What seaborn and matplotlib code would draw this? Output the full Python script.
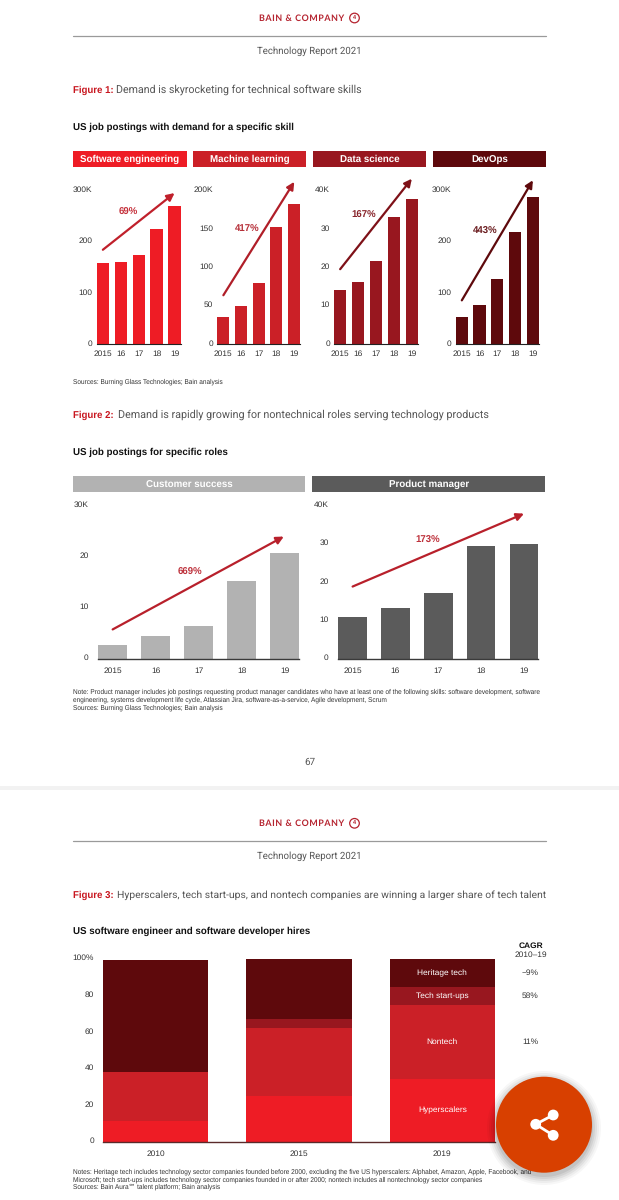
import matplotlib
matplotlib.use('Agg')
import matplotlib.pyplot as plt
import seaborn as sns
import numpy as np
from matplotlib.patches import Rectangle, Circle
from matplotlib.transforms import ScaledTranslation

W, H = 619, 1200

# Figure 1 data
years = ['2015', '16', '17', '18', '19']
software_eng = [160, 161, 175, 225, 271]
machine_learning = [35, 49.5, 80, 152.6, 183]
data_science = [14.2, 16.2, 21.7, 33.3, 37.8]
devops = [52.6, 76, 127, 220, 288]

# Figure 2 data
customer_success = [2.7, 4.4, 6.5, 15.2, 20.8]
product_manager = [10.9, 13.2, 17.3, 29.6, 30.1]

# Figure 3 data
hire_years = ['2010', '2015', '2019']
hyperscalers = [11.6, 25.3, 34.2]
nontech = [26.4, 37.2, 40.7]
startups = [0, 4.9, 10.0]
heritage = [61.5, 32.6, 15.1]
segment_names = ['Hyperscalers', 'Nontech', 'Tech start-ups', 'Heritage tech']
cagr_labels = ['', '11%', '58%', '\u22129%']

RED1, RED2, RED3, RED4 = '#EE1C25', '#CB2027', '#98171F', '#5E090C'

sns.set_theme(style='white')
plt.rcParams['font.family'] = ['Liberation Sans', 'DejaVu Sans']
plt.rcParams['text.color'] = '#333333'
plt.rcParams['text.hinting'] = 'no_hinting'

fig = plt.figure(figsize=(W / 100, H / 100), dpi=100, facecolor='white')


def px_axes(left, top, right, bottom):
    return fig.add_axes([left / W, 1 - bottom / H, (right - left) / W, (bottom - top) / H])


def style_axes(ax, ticks, labels, ymax, xlim, xpad, ypad, spine_color, spine_lw):
    ax.set_xlim(*xlim)
    ax.set_ylim(0, ymax)
    ax.set_yticks(ticks)
    ax.set_yticklabels(labels)
    ax.set_xlabel('')
    ax.set_ylabel('')
    ax.patch.set_alpha(0)
    ax.tick_params(axis='x', length=0, pad=xpad, labelsize=6, labelcolor='#333333')
    ax.tick_params(axis='y', length=0, pad=ypad, labelsize=6, labelcolor='#333333')
    for side in ['top', 'left', 'right']:
        ax.spines[side].set_visible(False)
    ax.spines['bottom'].set_color(spine_color)
    ax.spines['bottom'].set_linewidth(spine_lw)
    ax.spines['bottom'].set_zorder(5)
    # tick labels sit a bit above the gridline position in the original
    lift = ScaledTranslation(0, 1.2 / 72, fig.dpi_scale_trans)
    for t in ax.get_yticklabels():
        t.set_transform(t.get_transform() + lift)


def growth_panel(box, values, color, ymax, ticks, labels, arrow, arrow_color, pct, pct_pos, width, xlim, xpad, ypad, spine_color, spine_lw):
    ax = px_axes(*box)
    sns.barplot(x=years, y=values, color=color, saturation=1, width=width, linewidth=0, ax=ax)
    style_axes(ax, ticks, labels, ymax, xlim, xpad, ypad, spine_color, spine_lw)
    ax.annotate('', xy=arrow[2:], xytext=arrow[:2], annotation_clip=False,
                arrowprops=dict(arrowstyle='-|>', color=arrow_color, lw=1.6, mutation_scale=11, shrinkA=0, shrinkB=0))
    ax.text(pct_pos[0], pct_pos[1], pct, color=arrow_color, fontsize=6.9, fontweight='bold',
            ha='center', va='center', clip_on=False, alpha=0.92)
    return ax


# Figure 1 panels
small_xlim = (-0.344, 4.344)
growth_panel((96.7, 191, 180.7, 344.3), software_eng, RED1, 300, [0, 100, 200, 300], ['0', '100', '200', '300K'],
             (0, 185, 4, 296), '#C0202B', '69%', (1.44, 258), 0.688, small_xlim, 4.5, 3, '#222222', 0.8)
growth_panel((217.3, 191, 300, 344.3), machine_learning, RED2, 200, [0, 50, 100, 150, 200], ['0', '50', '100', '150', '200K'],
             (0, 64, 4.02, 212), '#B01E28', '417%', (1.33, 150), 0.688, small_xlim, 4.5, 3, '#222222', 0.8)
growth_panel((334, 191, 418, 344.3), data_science, RED3, 40, [0, 10, 20, 30, 40], ['0', '10', '20', '30', '40K'],
             (0, 19.6, 4, 43.2), '#7E1118', '167%', (1.34, 33.7), 0.688, small_xlim, 4.5, 3, '#222222', 0.8)
growth_panel((455.7, 191, 539, 344.3), devops, RED4, 300, [0, 100, 200, 300], ['0', '100', '200', '300K'],
             (0, 86, 4, 321), '#5E090C', '443%', (1.31, 222), 0.688, small_xlim, 4.5, 3, '#222222', 0.8)

# Figure 2 panels
wide_xlim = (-0.334, 4.334)
growth_panel((98.3, 506, 299, 658.7), customer_success, '#B2B2B2', 30, [0, 10, 20, 30], ['0', '10', '20', '30K'],
             (0, 5.75, 3.98, 24), '#B8202B', '669%', (1.8, 16.9), 0.668, wide_xlim, 6, 7, '#3A3A3A', 1.0)
growth_panel((338.3, 506, 538.3, 658.7), product_manager, '#5B5B5B', 40, [0, 10, 20, 30, 40], ['0', '10', '20', '30', '40K'],
             (0, 18.9, 4, 38), '#B8202B', '173%', (1.76, 30.9), 0.668, wide_xlim, 6, 7, '#3A3A3A', 1.0)

# Figure 3 stacked bars
ax3 = px_axes(102.9, 959, 495, 1142)
bottoms = np.zeros(3)
series = [hyperscalers, nontech, startups, heritage]
for values, color in zip(series, [RED1, RED2, RED3, RED4]):
    sns.barplot(x=hire_years, y=values, bottom=bottoms, color=color, saturation=1, width=0.736, linewidth=0, ax=ax3)
    bottoms = bottoms + np.array(values)
style_axes(ax3, [0, 20, 40, 60, 80, 100], ['0', '20', '40', '60', '80', '100%'], 100, (-0.368, 2.368), 6, 6.5, '#5A2A2A', 1.0)

# labels inside the 2019 bar and the CAGR column next to it
base = 0
for name, values, cagr in zip(segment_names, series, cagr_labels):
    mid = base + values[2] / 2
    ax3.text(2, mid, name, color='white', fontsize=6, ha='center', va='center')
    if cagr:
        ax3.text(2.615, mid, cagr, color='#333333', fontsize=6, ha='center', va='center', clip_on=False)
    base += values[2]

# page furniture goes on a full-size overlay in pixel coordinates
page = fig.add_axes([0, 0, 1, 1], zorder=20)
page.set_xlim(0, W)
page.set_ylim(H, 0)
page.axis('off')

page.add_patch(Rectangle((0, 786), W, 4, color='#F2F2F2', lw=0))


def page_head(logo_y, rule_y, report_y):
    page.text(301.5, logo_y, '\u200a'.join('BAIN & COMPANY'), color='#B5232F', family=['Lato', 'DejaVu Sans'],
              fontweight='bold', fontsize=6.4, ha='center', va='center')
    page.add_patch(Circle((354.5, logo_y), 4.8, fill=False, ec='#B5232F', lw=0.9))
    page.text(354.5, logo_y - 0.5, '4', color='#B5232F', fontsize=4, fontweight='bold', ha='center', va='center')
    page.plot([72.7, 546], [rule_y, rule_y], color='#9A9A9A', lw=0.9)
    page.text(309.5, report_y, 'Technology Report 2021', color='#555555', family='Roboto', fontsize=6.95,
              ha='center', va='center')


def figure_title(y, tag, text, x_text, size, sub, sub_y):
    page.text(72.7, y + 2.7, tag, color='#C8161F', fontsize=6.9, fontweight='bold', va='baseline')
    page.text(x_text, y + 2.7, text, color='#555555', family='Roboto', fontsize=size, va='baseline')
    page.text(72.7, sub_y + 2.5, sub, color='#111111', fontsize=7.05, fontweight='bold', va='baseline')


def band(x0, x1, y0, y1, color, label, dy=0):
    page.add_patch(Rectangle((x0, y0), x1 - x0, y1 - y0, color=color, lw=0))
    page.text((x0 + x1) / 2, (y0 + y1) / 2 + 3 + dy, label, color='white', fontsize=7.05, fontweight='bold',
              ha='center', va='baseline')


page_head(18, 36, 51)
figure_title(90, 'Figure 1:', 'Demand is skyrocketing for technical software skills', 116, 7.62,
             'US job postings with demand for a specific skill', 127)
band(72.7, 186.7, 150.7, 167, RED1, 'Software engineering')
band(192.7, 306, 150.7, 167, RED2, 'Machine learning')
band(313, 426.3, 150.7, 167, RED3, 'Data science')
band(432.7, 546, 150.7, 167, RED4, 'DevOps', dy=1)
page.text(72.7, 382, 'Sources: Burning Glass Technologies; Bain analysis', fontsize=4.7, va='center')

figure_title(415, 'Figure 2:', 'Demand is rapidly growing for nontechnical roles serving technology products', 117.7, 7.75,
             'US job postings for specific roles', 452)
band(72.7, 305.3, 476, 492.3, '#B2B2B2', 'Customer success', dy=1)
band(312.3, 545, 476, 492.3, '#5B5B5B', 'Product manager')
page.text(72.7, 691.3, 'Note: Product manager includes job postings requesting product manager candidates who have at least one of the following skills: software development, software',
          fontsize=4.7, va='center')
page.text(72.7, 699.3, 'engineering, systems development life cycle, Atlassian Jira, software-as-a-service, Agile development, Scrum',
          fontsize=4.7, va='center')
page.text(72.7, 707.5, 'Sources: Burning Glass Technologies; Bain analysis', fontsize=4.7, va='center')
page.text(309.5, 761.7, '67', color='#555555', family='Roboto', fontsize=7.1, ha='center', va='center')

page_head(823.3, 840.7, 855.7)
figure_title(894.7, 'Figure 3:', 'Hyperscalers, tech start-ups, and nontech companies are winning a larger share of tech talent', 116.8, 7.5,
             'US software engineer and software developer hires', 931)
page.text(530.7, 945.7, 'CAGR', color='#111111', fontsize=6, fontweight='bold', ha='center', va='center')
page.text(530.7, 955.3, '2010\u201319', fontsize=6, ha='center', va='center')
page.text(72.7, 1171.3, 'Notes: Heritage tech includes technology sector companies founded before 2000, excluding the five US hyperscalers: Alphabet, Amazon, Apple, Facebook, and',
          fontsize=4.7, va='center')
page.text(72.7, 1179.3, 'Microsoft; tech start-ups includes technology sector companies founded in or after 2000; nontech includes all nontechnology sector companies',
          fontsize=4.7, va='center')
page.text(72.7, 1187, 'Sources: Bain Aura\u2120 talent platform; Bain analysis', fontsize=4.7, va='center')

# floating share button with soft shadow
for grow, alpha in zip([9, 7, 5, 3, 1], [0.03, 0.04, 0.05, 0.06, 0.07]):
    page.add_patch(Circle((544, 1128), 48 + grow, color='black', alpha=alpha, lw=0, zorder=8))
page.add_patch(Circle((544, 1124.7), 48, color='#D84000', lw=0, zorder=9))
page.plot([553.2, 535.7, 553.2], [1115, 1124.3, 1135.3], color='white', lw=2, zorder=10)
for cx, cy in [(553.2, 1115), (535.7, 1124.3), (553.2, 1135.3)]:
    page.add_patch(Circle((cx, cy), 5.4, color='white', lw=0, zorder=10))

fig.savefig('out.png', dpi=100, facecolor='white')
